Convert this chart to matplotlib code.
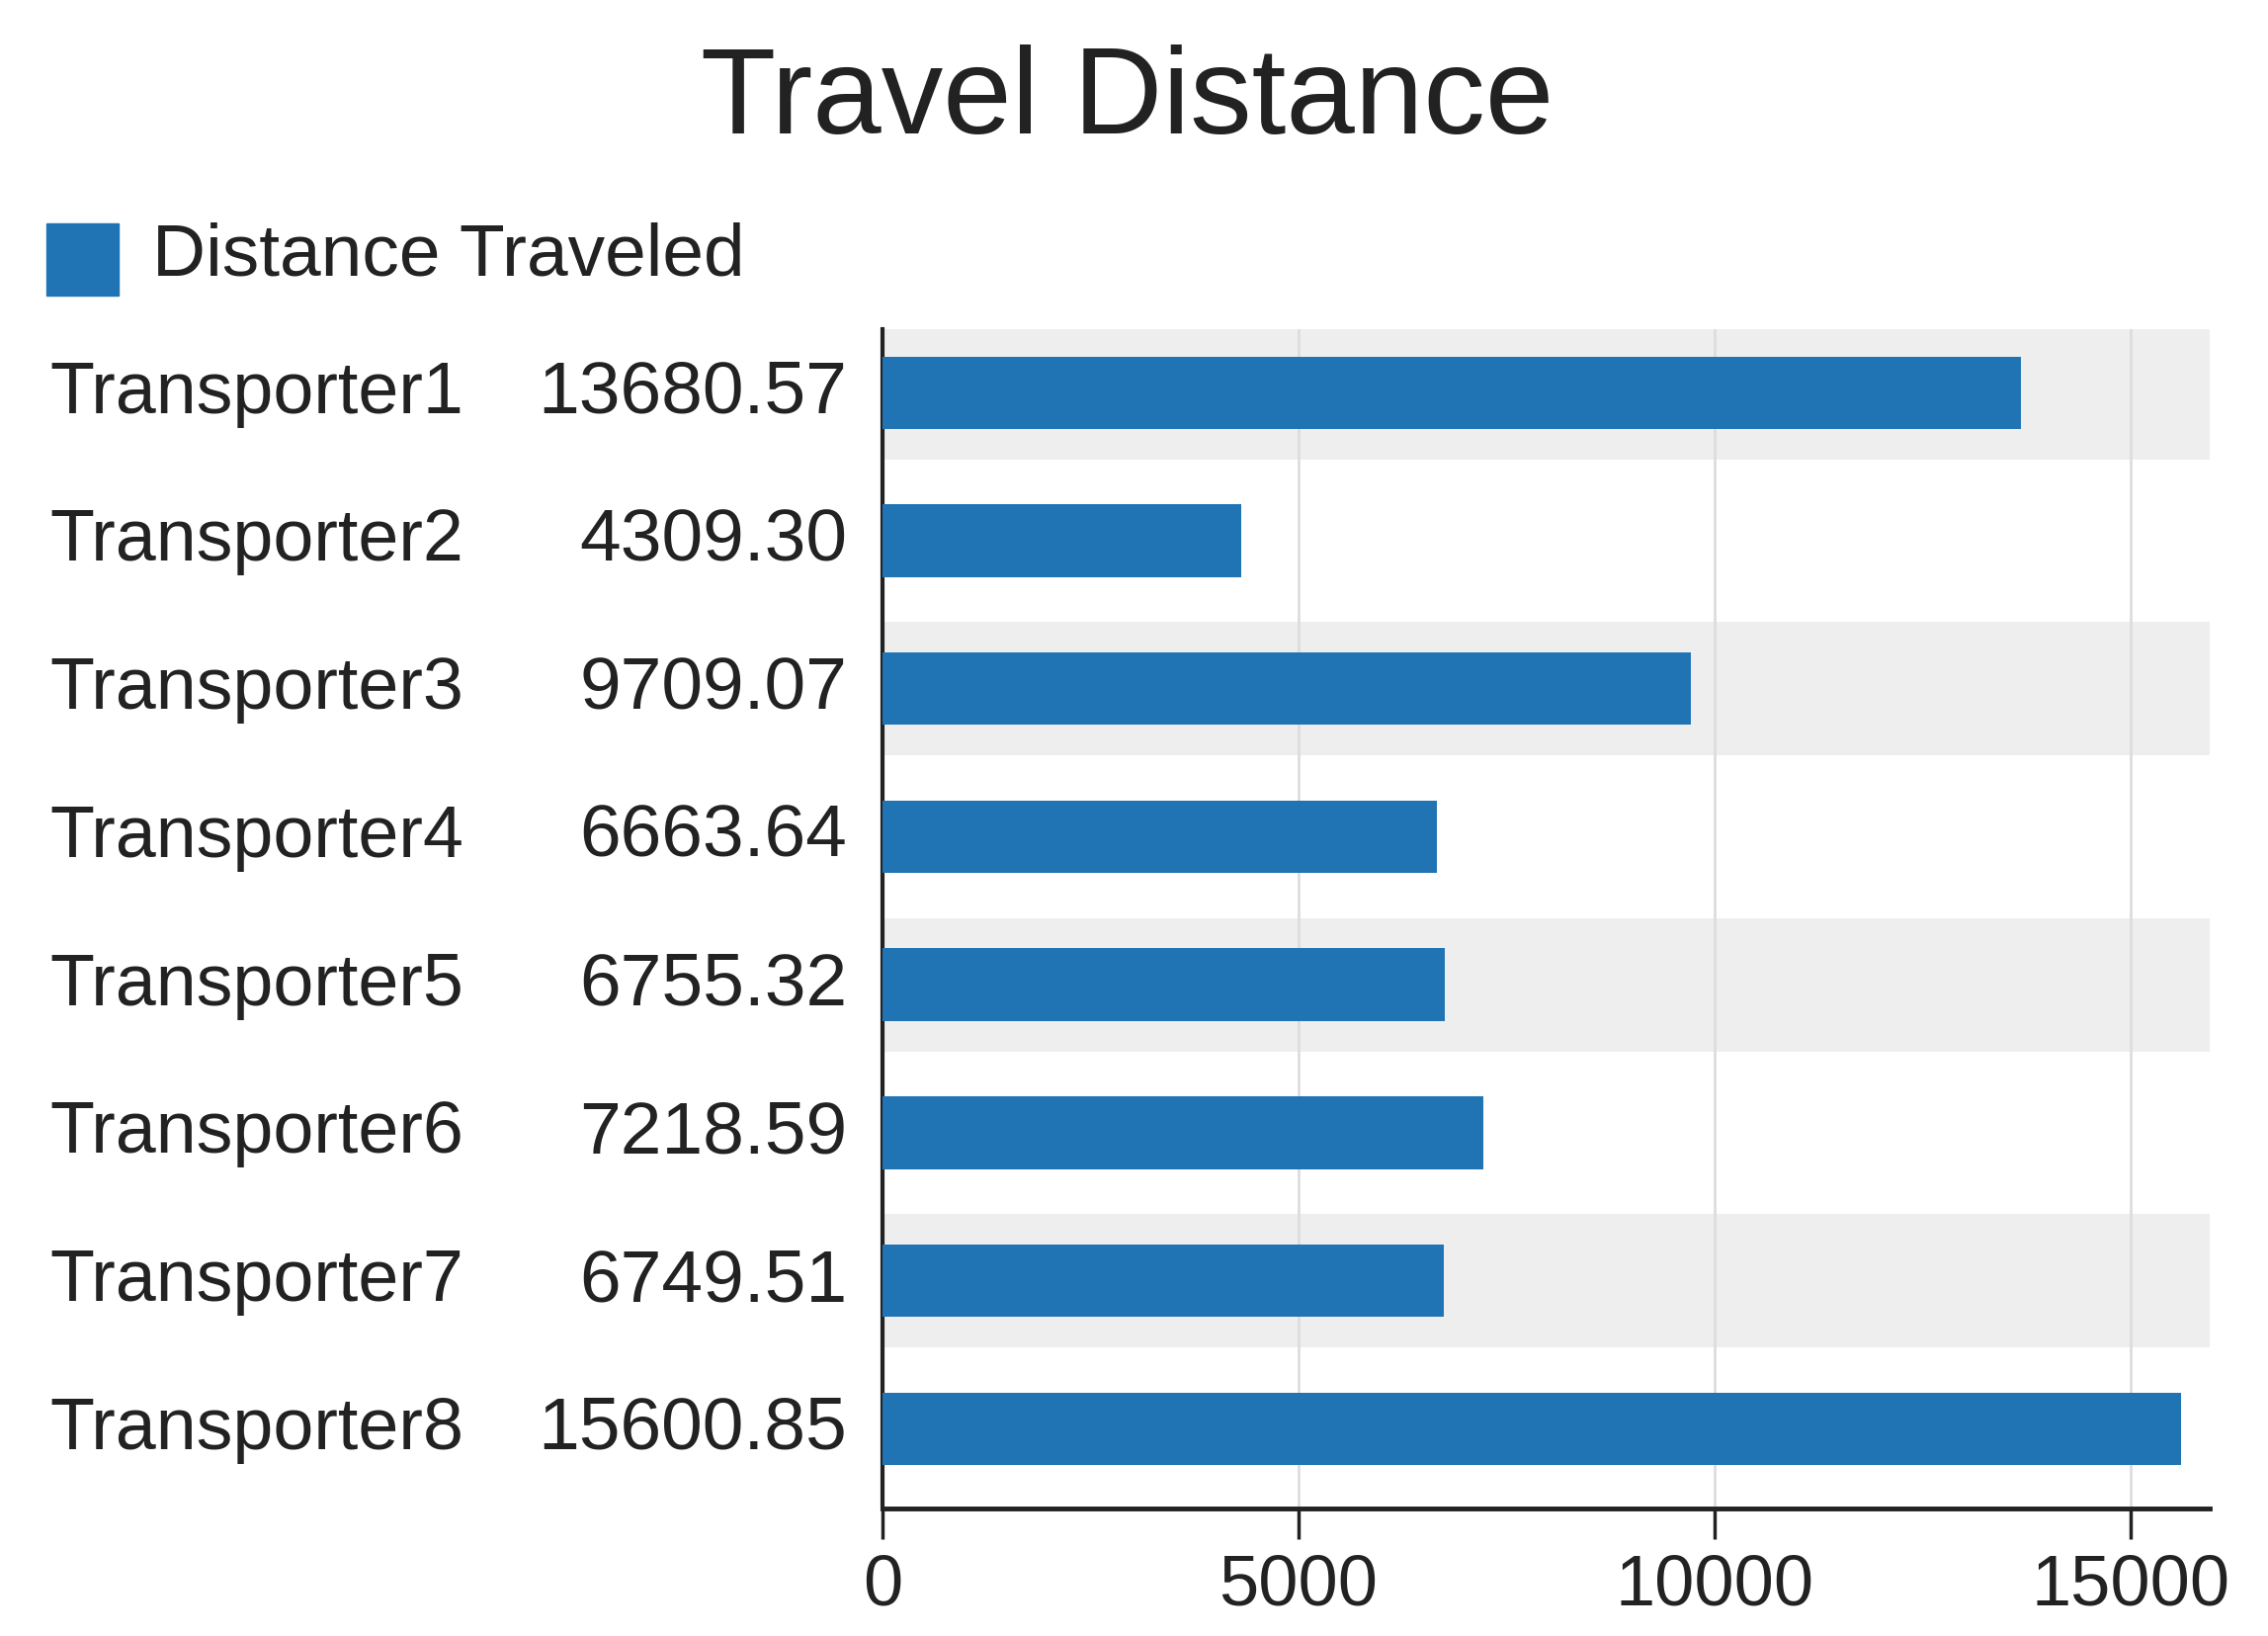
import matplotlib.pyplot as plt
from matplotlib.patches import Rectangle
import matplotlib.transforms as mtransforms

transporters = ['Transporter1', 'Transporter2', 'Transporter3', 'Transporter4',
                'Transporter5', 'Transporter6', 'Transporter7', 'Transporter8']
distances = [13680.57, 4309.30, 9709.07, 6663.64, 6755.32, 7218.59, 6749.51, 15600.85]
x_ticks = [0, 5000, 10000, 15000]

plt.rcParams['font.family'] = ['Liberation Sans', 'DejaVu Sans']
text_color = '#222222'
bar_color = '#2074b4'

fig = plt.figure(figsize=(22.95, 16.56), dpi=100)
ax = fig.add_axes([0.389, 0.0778, 0.9745 - 0.389, 0.7984 - 0.0778])

ys = list(range(len(transporters)))

# alternating background bands
for i in ys:
    if i % 2 == 0:
        ax.axhspan(i - 0.45, i + 0.45, color='#eeeeee', zorder=0, lw=0)

ax.barh(ys, distances, height=0.49, color=bar_color, zorder=3)

ax.set_xlim(0, 15950)
ax.set_ylim(7.54, -0.43)
ax.set_xticks(x_ticks)
ax.set_xticklabels([str(t) for t in x_ticks], fontsize=52, color=text_color)
ax.set_yticks([])
ax.xaxis.grid(True, color='#dddddd', lw=2, zorder=1)
ax.set_axisbelow(True)

for s in ['top', 'right']:
    ax.spines[s].set_visible(False)
ax.spines['bottom'].set_linewidth(3.5)
ax.spines['bottom'].set_color('#222222')
ax.spines['left'].set_linewidth(3)
ax.spines['left'].set_color('#222222')
ax.tick_params(axis='x', length=22, width=2.5, color='#222222', pad=10)

# row labels: name left aligned, value right aligned
trans = mtransforms.blended_transform_factory(fig.transFigure, ax.transData)
for y, name, d in zip(ys, transporters, distances):
    ax.text(0.022, y, name, transform=trans, ha='left', va='center',
            fontsize=53, color=text_color, clip_on=False)
    ax.text(0.3735, y, '%.2f' % d, transform=trans, ha='right', va='center',
            fontsize=54, color=text_color, clip_on=False)

# title
fig.text(0.497, 0.938, 'Travel Distance', ha='center', va='center',
         fontsize=90, color=text_color)

# legend
fig.patches.append(Rectangle((0.0205, 0.8188), 0.0318, 0.0442,
                             transform=fig.transFigure, color=bar_color))
fig.text(0.067, 0.8435, 'Distance Traveled', ha='left', va='center',
         fontsize=54, color=text_color)

fig.savefig('out.png', dpi=100)
plt.close(fig)
